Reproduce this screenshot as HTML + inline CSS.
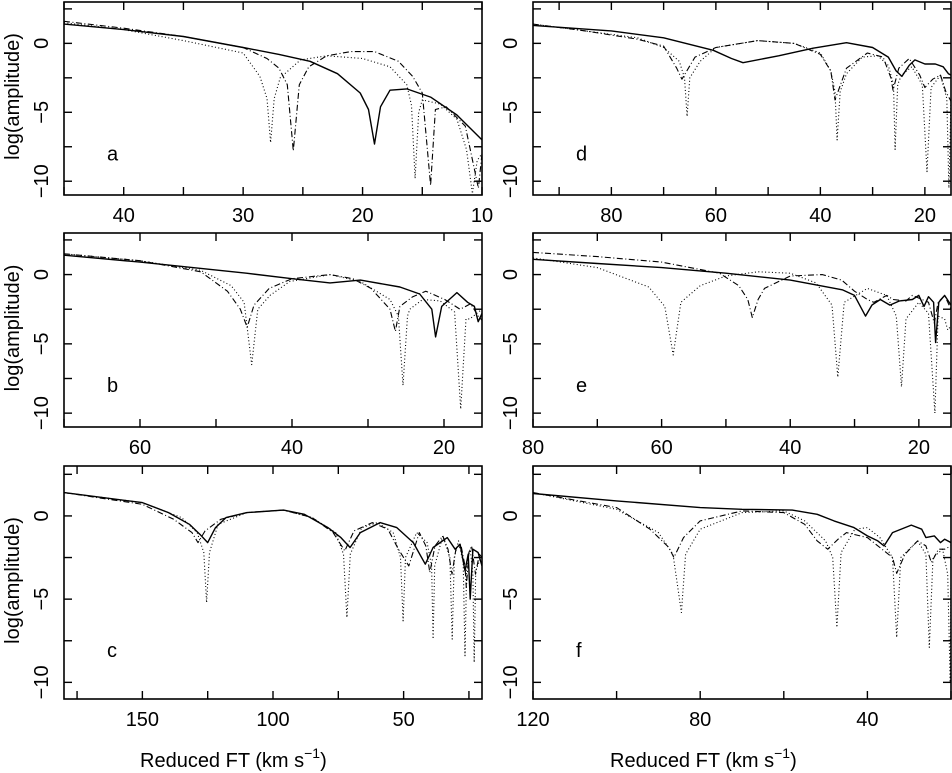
<!DOCTYPE html>
<html><head><meta charset="utf-8">
<style>
html,body{margin:0;padding:0;background:#fff;}
svg{display:block;font-family:"Liberation Sans",sans-serif;}
</style></head>
<body>
<svg id="chart" width="952" height="773" viewBox="0 0 952 773" xmlns="http://www.w3.org/2000/svg"></svg>
<script>
// ---- data (x = reduced FT km/s, y = log amplitude) ----
const aSolid=[[45,1.4],[40,1.0],[35,0.5],[30,-0.3],[27,-0.8],[24.4,-1.3],[22.1,-2.2],[20.2,-3.6],[19.5,-4.8],[19.0,-7.3],[18.5,-4.6],[17.7,-3.4],[16.3,-3.3],[14.3,-3.9],[12.1,-5.2],[10,-7.0]];
const aDot=[[45,1.5],[40,1.0],[35,0.2],[30,-0.7],[28.6,-2.4],[28.0,-4.0],[27.7,-7.2],[27.4,-4.0],[26.9,-2.5],[25.2,-1.2],[23.0,-0.9],[20,-1.1],[17.7,-1.7],[16.3,-3.0],[15.9,-4.5],[15.6,-9.8],[15.3,-5.0],[15.0,-4.1],[13.5,-4.4],[12.1,-5.5],[11.3,-7.7],[10.8,-10.9],[10.4,-8.5],[10,-8.0]];
const aDashDot=[[45,1.6],[40,1.1],[35,0.5],[30,-0.3],[28,-1.1],[27,-1.8],[26.3,-3.0],[25.8,-7.8],[25.3,-3.0],[24.5,-1.7],[23,-0.9],[21,-0.6],[19,-0.6],[17,-1.3],[15.8,-2.4],[15.0,-3.6],[14.3,-10.3],[13.9,-4.8],[13.0,-4.6],[11.4,-6.0],[10.3,-10.5],[10,-8.0]];

const bSolid=[[70,1.4],[60,0.9],[46,0.1],[40,-0.3],[35,-0.6],[31,-0.4],[25.8,-0.9],[23.2,-1.4],[21.6,-2.5],[21.1,-4.5],[20.3,-2.3],[18.3,-1.3],[16.9,-2.0],[16,-2.3],[15.5,-3.4],[15,-2.8]];
const bDot=[[70,1.5],[60,1.0],[52,0.3],[48,-0.8],[46.3,-2.0],[45.3,-6.5],[44.5,-2.5],[42.9,-1.5],[40.3,-0.5],[35,0.0],[31,-0.5],[27.1,-1.8],[26,-3.0],[25.4,-8.0],[24.8,-3.0],[24.5,-2.5],[22.8,-1.8],[20.5,-1.9],[18.6,-2.7],[17.8,-9.7],[17.1,-3.2],[16.6,-3.2],[15,-2.5]];
const bDashDot=[[70,1.5],[60,1.0],[52,0.2],[48.5,-1.2],[46.8,-2.5],[45.9,-3.8],[45,-2.2],[43,-1.0],[40,-0.3],[35,0.0],[32,-0.3],[29.6,-1.0],[27.1,-2.5],[26.4,-4.1],[25.8,-2.3],[24.1,-1.6],[22.4,-1.2],[19.9,-1.8],[17.9,-2.5],[17.5,-2.4],[16.5,-2.1],[15.5,-3.0],[15,-3.3]];

const cSolid=[[180,1.4],[160,1.0],[150,0.8],[140,0.2],[132,-0.5],[128,-1.1],[125,-1.6],[122,-0.7],[118,-0.1],[110,0.2],[96,0.35],[88,0.1],[79,-0.7],[74,-1.3],[70.5,-1.9],[66.6,-1.0],[59,-0.4],[52.6,-0.7],[46.3,-1.6],[41.7,-2.9],[38.7,-1.9],[33.3,-1.3],[30.3,-2.0],[28.4,-1.7],[26.5,-3.3],[25.3,-2.3],[24.5,-5.0],[23.5,-2.0],[21.5,-2.2],[20,-3.0]];
const cDot=[[180,1.4],[150,0.8],[135,-0.1],[129,-1.0],[126.5,-2.2],[125.4,-5.2],[124.3,-2.2],[121,-0.5],[110,0.2],[96,0.35],[85,-0.1],[76,-1.0],[73,-2.3],[71.7,-6.1],[70.4,-2.3],[66,-0.7],[60,-0.4],[54,-1.0],[51.2,-2.5],[50.2,-6.3],[49.3,-2.5],[45,-1.0],[41,-1.6],[39.3,-3.0],[38.7,-7.4],[38.1,-3.0],[35,-1.2],[32.3,-2.5],[31.4,-7.4],[30.6,-2.5],[29,-1.5],[27.2,-2.8],[26.5,-8.4],[25.8,-2.8],[24.5,-2.0],[23.5,-3.5],[23,-8.8],[22.4,-3.3],[20,-2.3]];
const cDashDot=[[180,1.4],[150,0.7],[138,-0.2],[131,-1.0],[128.7,-1.6],[126,-0.9],[120,-0.2],[110,0.2],[96,0.35],[85,-0.1],[77,-1.0],[72.5,-2.1],[69,-0.9],[62,-0.4],[56,-0.8],[52,-2.0],[48,-3.0],[44,-1.0],[41.5,-1.8],[40,-3.4],[38,-1.8],[35,-1.2],[33,-2.0],[31.5,-3.5],[30,-2.0],[28,-1.8],[26.5,-3.0],[26,-4.3],[25,-2.2],[24,-1.8],[22.5,-3.5],[21,-2.3],[20,-2.5]];

const dSolid=[[95,1.3],[80,0.9],[70,0.4],[60.5,-0.5],[57,-1.1],[54.8,-1.4],[48,-0.9],[41.4,-0.35],[35,0.05],[30,-0.3],[27,-1.0],[25.5,-2.0],[24.4,-2.4],[23,-1.6],[21.9,-1.2],[20,-1.5],[18,-1.5],[16.5,-1.7],[15.5,-2.2],[15,-2.3]];
const dDot=[[95,1.4],[85,0.9],[75,0.4],[70,-0.3],[67,-1.3],[66,-2.5],[65.5,-5.3],[65,-2.5],[63,-1.3],[60,-0.3],[52,0.2],[45,0.0],[40,-0.7],[38,-2.0],[37.2,-3.5],[36.8,-7.0],[36.2,-3.5],[35,-2.2],[32,-1.0],[29,-0.9],[27,-1.6],[26,-3.0],[25.7,-7.7],[25.2,-3.0],[24.5,-2.3],[22.5,-1.7],[20.5,-3.0],[19.6,-9.3],[18.8,-3.2],[17,-2.3],[15.8,-4.0],[15.4,-10.5],[15,-4.0]];
const dDashDot=[[95,1.4],[85,0.9],[75,0.3],[70,-0.2],[67.5,-1.8],[66.5,-2.6],[64,-1.0],[60,-0.3],[52,0.2],[45,0.0],[40,-0.8],[38,-2.0],[37.2,-4.1],[35,-1.8],[31,-0.7],[28,-1.0],[26.5,-2.5],[26.1,-3.4],[25,-1.8],[23,-1.1],[21,-2.3],[20,-3.2],[18.5,-2.6],[17,-2.3],[16,-3.5],[15,-4.2]];

const eSolid=[[80,1.1],[70,0.8],[60,0.5],[50,0.1],[40,-0.4],[31.9,-1.1],[30,-1.5],[28.3,-3.0],[27.3,-2.2],[26,-1.8],[24.5,-2.2],[23,-1.9],[21,-1.8],[20,-1.5],[19.2,-2.3],[18.5,-1.6],[17.7,-2.0],[17.4,-4.9],[16.9,-2.0],[16,-1.5],[15,-2.2]];
const eDashDot=[[80,1.6],[70,1.3],[60,0.9],[51,0.1],[48,-0.8],[46.6,-1.8],[45.9,-3.1],[45,-1.8],[44,-1.0],[40,-0.1],[35,0.0],[32,-0.4],[30,-1.2],[28,-1.8],[27,-2.0],[25,-1.5],[24,-1.8],[22,-1.9],[21,-1.5],[19.5,-1.8],[18.5,-2.0],[17.6,-3.5],[17,-2.0],[16,-1.5],[15,-2.5]];
const eDot=[[80,1.2],[70,0.5],[62,-0.9],[59.5,-2.3],[58.2,-5.8],[57,-2.0],[54,-0.8],[50,-0.1],[45,0.2],[40,0.1],[36,-0.6],[33.5,-2.2],[32.6,-7.4],[31.6,-2.0],[28,-1.0],[25,-1.5],[23.5,-3.0],[22.7,-8.1],[22,-3.2],[20,-2.0],[18.5,-2.8],[17.5,-10],[17,-3.0],[16,-3.2],[15.5,-4.0],[15,-3.7]];

const fSolid=[[120,1.35],[100,0.9],[80,0.5],[70,0.4],[58,0.35],[52,0.1],[48,-0.3],[43.2,-0.7],[40,-1.2],[37.5,-1.5],[36,-1.8],[34,-1.0],[29.5,-0.55],[27,-0.8],[26,-1.3],[24,-1.2],[22.5,-1.6],[21.5,-1.4],[20,-1.6]];
const fDashDot=[[120,1.4],[100,0.5],[92,-0.8],[87.5,-1.9],[86.3,-2.5],[84,-1.3],[80,-0.3],[70,0.3],[60,0.2],[55,-0.5],[52,-1.5],[49.5,-2.0],[47,-1.4],[45,-1.0],[40,-1.3],[37,-1.9],[34,-2.5],[33,-3.45],[31,-2.3],[28,-1.5],[26,-1.8],[24.7,-2.8],[23,-2.0],[21.5,-2.0],[20,-1.8]];
const fDot=[[120,1.4],[100,0.4],[90,-1.0],[86.5,-2.3],[84.5,-5.8],[83.5,-2.3],[80,-0.8],[70,0.2],[60,0.3],[55,-0.3],[50,-1.5],[48.3,-2.5],[47.3,-6.7],[46.3,-2.2],[43,-0.8],[40,-0.7],[37,-1.3],[34,-2.5],[33,-7.3],[32,-2.5],[28,-1.5],[26,-2.3],[25.2,-7.9],[24.3,-2.5],[22,-2.0],[20.8,-3.5],[20.2,-10],[20,-4.0]];

const yTicks=[0,-5,-10];
const yTickLabels=["0","\u22125","\u221210"];
const aXTicks=[40,30,20,10], bXTicks=[60,40,20], cXTicks=[150,100,50], dXTicks=[80,60,40,20], eXTicks=[80,60,40,20], fXTicks=[120,80,40];

// ---- layout ----
const NS="http://www.w3.org/2000/svg";
const svg=document.getElementById('chart');
function mk(tag,attrs,parent){const e=document.createElementNS(NS,tag);for(const k in attrs)e.setAttribute(k,attrs[k]);(parent||svg).appendChild(e);return e;}
const styles={solid:{w:1.4,d:"none"},dot:{w:1.1,d:"1,2.4"},dashdot:{w:1.1,d:"6,2.5,1,2.5"}};

function panel(name,box,xLeft,xRight,minorStep,majorTicks,letter,series,showY){
  const [L,T,R,B]=box;
  const g=mk('g',{});
  
  
  const sx=v=>L+(xLeft-v)/(xLeft-xRight)*(R-L);
  const sy=v=>T+(3-v)/14*(B-T);
  const clipId='clip-'+name;
  const cp=mk('clipPath',{id:clipId},g);mk('rect',{x:L,y:T,width:R-L,height:B-T},cp);
  for(const s of series){
    const p=mk('polyline',{points:s.data.map(d=>sx(d[0]).toFixed(1)+','+sy(d[1]).toFixed(1)).join(' '),fill:'none',stroke:'#000','stroke-width':styles[s.style].w,'stroke-dasharray':styles[s.style].d,'clip-path':'url(#'+clipId+')','stroke-linejoin':'round'},g);
    
    
  }
  const fr=mk('rect',{x:L,y:T,width:R-L,height:B-T,fill:'none',stroke:'#000','stroke-width':1.6},g);
  
  
  const tl=8;
  const start=Math.ceil(xRight/minorStep)*minorStep;
  for(let v=start; v<=xLeft+1e-9; v+=minorStep){
    const x=sx(v);
    mk('line',{x1:x,y1:B,x2:x,y2:B-tl,stroke:'#000','stroke-width':1.4},g);
    mk('line',{x1:x,y1:T,x2:x,y2:T+tl,stroke:'#000','stroke-width':1.4},g);
  }
  for(let v=-10; v<=2.5; v+=2.5){
    const y=sy(v);
    mk('line',{x1:L,y1:y,x2:L+tl,y2:y,stroke:'#000','stroke-width':1.4},g);
    mk('line',{x1:R,y1:y,x2:R-tl,y2:y,stroke:'#000','stroke-width':1.4},g);
  }
  for(const v of majorTicks){
    const t=mk('text',{x:sx(v),y:B+27,'text-anchor':'middle','font-size':20},g);
    t.textContent=String(v);
    
    
  }
  yTicks.forEach((v,i)=>{
    const cx=L-16, cy=sy(v);
    const t=mk('text',{x:cx,y:cy,'text-anchor':'middle','font-size':20,transform:'rotate(-90 '+cx+' '+cy+')'},g);
    t.textContent=yTickLabels[i];
    
    
  });
  const lt=mk('text',{x:L+43,y:T+(B-T)*0.82,'font-size':20},g);
  lt.textContent=letter;
  
  
  if(showY){
    const cx=19, cy=(T+B)/2-2;
    const yt=mk('text',{x:cx,y:cy,'text-anchor':'middle','font-size':20,transform:'rotate(-90 '+cx+' '+cy+')'},g);
    yt.textContent='log(amplitude)';
    
    
  }
}
panel('a',[64,2,482,195],45,10,5,aXTicks,'a',[{data:aDot,style:'dot'},{data:aDashDot,style:'dashdot'},{data:aSolid,style:'solid'}],true);
panel('b',[64,233,482,427],70,15,10,bXTicks,'b',[{data:bDot,style:'dot'},{data:bDashDot,style:'dashdot'},{data:bSolid,style:'solid'}],true);
panel('c',[64,466,482,699],180,20,25,cXTicks,'c',[{data:cDot,style:'dot'},{data:cDashDot,style:'dashdot'},{data:cSolid,style:'solid'}],true);
panel('d',[533,2,951,195],95,15,10,dXTicks,'d',[{data:dDot,style:'dot'},{data:dDashDot,style:'dashdot'},{data:dSolid,style:'solid'}],false);
panel('e',[533,233,951,427],80,15,10,eXTicks,'e',[{data:eDot,style:'dot'},{data:eDashDot,style:'dashdot'},{data:eSolid,style:'solid'}],false);
panel('f',[533,466,951,699],120,20,20,fXTicks,'f',[{data:fDot,style:'dot'},{data:fDashDot,style:'dashdot'},{data:fSolid,style:'solid'}],false);

[[140,'left'],[610,'right']].forEach(([x,side])=>{
  const t=mk('text',{x:x,y:767,'font-size':20});
  
  
  t.appendChild(document.createTextNode('Reduced FT (km s'));
  const sup=mk('tspan',{dy:-9,'font-size':14},t);sup.textContent='\u22121';
  const cl=mk('tspan',{dy:9},t);cl.textContent=')';
});
</script>
</body></html>
